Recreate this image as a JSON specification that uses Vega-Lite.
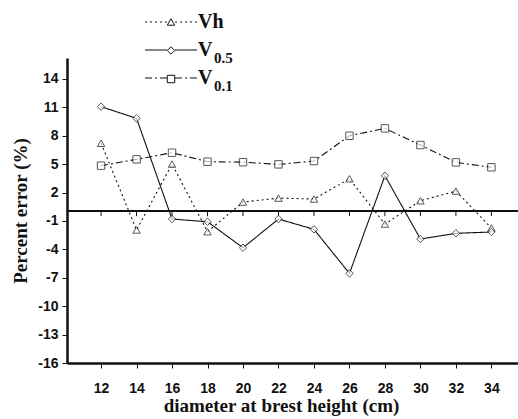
{
  "$schema": "https://vega.github.io/schema/vega-lite/v6.json",
  "width": 451,
  "height": 305,
  "autosize": {"type": "none"},
  "padding": {"left": 67, "top": 58, "right": 0, "bottom": 56},
  "background": "white",
  "config": {"view": {"stroke": null}, "font": "Liberation Serif"},
  "data": {
    "values": [
      {"series": "Vh", "d": 12, "value": 7.2},
      {"series": "Vh", "d": 14, "value": -1.96},
      {"series": "Vh", "d": 16, "value": 5.0},
      {"series": "Vh", "d": 18, "value": -2.14},
      {"series": "Vh", "d": 20, "value": 0.99},
      {"series": "Vh", "d": 22, "value": 1.41},
      {"series": "Vh", "d": 24, "value": 1.31},
      {"series": "Vh", "d": 26, "value": 3.45},
      {"series": "Vh", "d": 28, "value": -1.33},
      {"series": "Vh", "d": 30, "value": 1.13},
      {"series": "Vh", "d": 32, "value": 2.15},
      {"series": "Vh", "d": 34, "value": -1.75},
      {"series": "V0.5", "d": 12, "value": 11.06},
      {"series": "V0.5", "d": 14, "value": 9.83},
      {"series": "V0.5", "d": 16, "value": -0.8},
      {"series": "V0.5", "d": 18, "value": -1.09},
      {"series": "V0.5", "d": 20, "value": -3.83},
      {"series": "V0.5", "d": 22, "value": -0.8},
      {"series": "V0.5", "d": 24, "value": -1.89},
      {"series": "V0.5", "d": 26, "value": -6.54},
      {"series": "V0.5", "d": 28, "value": 3.77},
      {"series": "V0.5", "d": 30, "value": -2.91},
      {"series": "V0.5", "d": 32, "value": -2.31},
      {"series": "V0.5", "d": 34, "value": -2.17},
      {"series": "V0.1", "d": 12, "value": 4.83},
      {"series": "V0.1", "d": 14, "value": 5.5},
      {"series": "V0.1", "d": 16, "value": 6.2},
      {"series": "V0.1", "d": 18, "value": 5.25},
      {"series": "V0.1", "d": 20, "value": 5.2},
      {"series": "V0.1", "d": 22, "value": 4.97},
      {"series": "V0.1", "d": 24, "value": 5.32},
      {"series": "V0.1", "d": 26, "value": 7.99},
      {"series": "V0.1", "d": 28, "value": 8.77},
      {"series": "V0.1", "d": 30, "value": 7.01},
      {"series": "V0.1", "d": 32, "value": 5.18},
      {"series": "V0.1", "d": 34, "value": 4.66}
    ]
  },
  "layer": [
    {
      "mark": {"type": "line", "color": "#111", "strokeWidth": 1.1},
      "encoding": {
        "x": {
          "field": "d",
          "type": "quantitative",
          "scale": {"domain": [10.08, 35.5], "nice": false, "zero": false},
          "axis": {
            "values": [12, 14, 16, 18, 20, 22, 24, 26, 28, 30, 32, 34],
            "tickCount": 30,
            "title": "diameter at brest height (cm)",
            "titleFont": "Liberation Serif",
            "titleFontWeight": "bold",
            "titleFontSize": 19,
            "titleColor": "#111",
            "titlePadding": 1,
            "titleX": 214,
            "labelFont": "Liberation Sans",
            "labelFontWeight": "bold",
            "labelFontSize": 14,
            "labelColor": "#111",
            "labelPadding": 13,
            "labelFlush": false,
            "labelOverlap": false,
            "tickSize": 5,
            "tickColor": "#111",
            "domainColor": "#111",
            "domainWidth": 2.5,
            "grid": false
          }
        },
        "y": {
          "field": "value",
          "type": "quantitative",
          "scale": {"domain": [-16, 16.2], "nice": false, "zero": false},
          "axis": {
            "values": [-16, -13, -10, -7, -4, -1, 2, 5, 8, 11, 14],
            "tickCount": 30,
            "labelExpr": "'' + datum.value",
            "title": "Percent error (%)",
            "titleFont": "Liberation Serif",
            "titleFontWeight": "bold",
            "titleFontSize": 19,
            "titleColor": "#111",
            "titlePadding": 7,
            "labelFont": "Liberation Sans",
            "labelFontWeight": "bold",
            "labelFontSize": 14,
            "labelColor": "#111",
            "labelPadding": 4,
            "labelOverlap": false,
            "tickSize": 5,
            "tickColor": "#111",
            "domainColor": "#111",
            "domainWidth": 2.5,
            "grid": false
          }
        },
        "strokeDash": {
          "field": "series",
          "type": "nominal",
          "scale": {"domain": ["Vh", "V0.5", "V0.1", "_"], "range": [[2, 3], [1, 0], [7, 3, 2, 3], [1, 0]]},
          "legend": {
            "values": ["Vh", "V0.5", "V0.1"],
            "orient": "none",
            "legendX": 94,
            "legendY": -46,
            "title": null,
            "padding": 0,
            "symbolType": "M-3.25,0H-0.5M0.5,0H3.25",
            "symbolSize": 256,
            "symbolStrokeColor": "#111",
            "symbolStrokeWidth": 1.1,
            "symbolFillColor": "transparent",
            "labelExpr": "datum.label == 'Vh' ? 'Vh' : 'V'",
            "labelFont": "Liberation Serif",
            "labelFontWeight": "bold",
            "labelFontSize": 20,
            "labelColor": "#111",
            "labelOffset": 17,
            "rowPadding": 8
          }
        }
      }
    },
    {
      "mark": {"type": "rule", "color": "#111", "strokeWidth": 1.3},
      "encoding": {"y": {"datum": 0}}
    },
    {
      "transform": [{"filter": "datum.series == 'Vh'"}],
      "mark": {"type": "rule", "color": "#111", "strokeWidth": 1},
      "encoding": {
        "x": {"field": "d", "type": "quantitative"},
        "y": {"datum": 0},
        "y2": {"datum": -0.5}
      }
    },
    {
      "mark": {"type": "point", "filled": false, "color": "#111", "fill": "white", "strokeWidth": 1, "size": 55},
      "encoding": {
        "x": {"field": "d", "type": "quantitative"},
        "y": {"field": "value", "type": "quantitative"},
        "shape": {
          "field": "series",
          "type": "nominal",
          "scale": {"domain": ["Vh", "V0.5", "V0.1"], "range": ["triangle-up", "diamond", "square"]},
          "legend": {
            "orient": "none",
            "legendX": 96.5,
            "legendY": -43.5,
            "title": null,
            "padding": 0,
            "symbolSize": 55,
            "symbolStrokeWidth": 1,
            "symbolOpacity": 1,
            "labelExpr": "datum.label == 'Vh' ? ' ' : slice(datum.label, 1)",
            "labelFont": "Liberation Serif",
            "labelFontWeight": "bold",
            "labelFontSize": 15,
            "labelBaseline": "top",
            "labelColor": "#111",
            "labelOffset": 35.5,
            "rowPadding": 5.5
          }
        }
      }
    }
  ]
}
